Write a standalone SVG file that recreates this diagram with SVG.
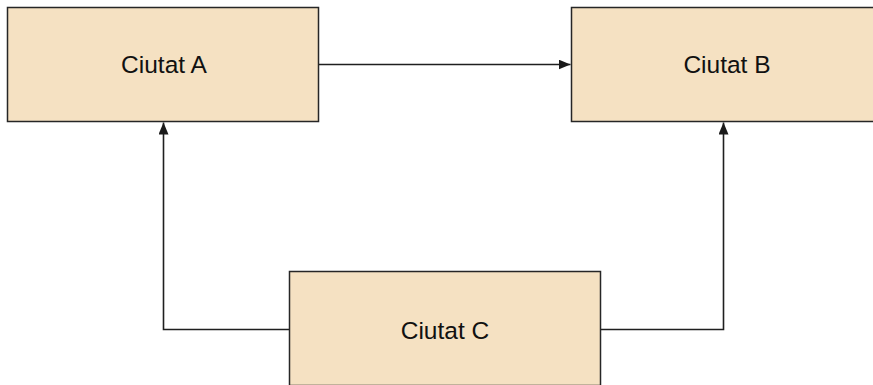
<svg xmlns="http://www.w3.org/2000/svg" width="873" height="385" viewBox="0 0 873 385">
<defs>
<marker id="ah" markerWidth="12" markerHeight="10" refX="12" refY="5" orient="auto" markerUnits="userSpaceOnUse">
<path d="M0,0 L12,5 L0,10 Z" fill="#1a1a1a"/>
</marker>
<style>
.box{fill:#f5e1c2;stroke:#262626;stroke-width:1.5}
.lbl{font-family:"Liberation Sans",Arial,sans-serif;font-size:24.5px;fill:#111;text-anchor:middle}
.edge{fill:none;stroke:#1f1f1f;stroke-width:1.6}
</style>
</defs>
<rect width="873" height="385" fill="#ffffff"/>
<g id="connectors">
<path class="edge" d="M318.5,64.5 H570.5" marker-end="url(#ah)"/>
<path class="edge" d="M289.5,329.5 H163.5 V122.5" marker-end="url(#ah)"/>
<path class="edge" d="M600.5,329.5 H723.5 V122.5" marker-end="url(#ah)"/>
</g>
<g id="node-a">
<rect class="box" x="7.5" y="7.5" width="311" height="114"/>
<text class="lbl" x="164" y="73">Ciutat A</text>
</g>
<g id="node-b">
<rect class="box" x="571.5" y="7.5" width="311" height="114"/>
<text class="lbl" x="727" y="73">Ciutat B</text>
</g>
<g id="node-c">
<rect class="box" x="289.5" y="271.5" width="311" height="114"/>
<text class="lbl" x="445" y="339">Ciutat C</text>
</g>
</svg>
